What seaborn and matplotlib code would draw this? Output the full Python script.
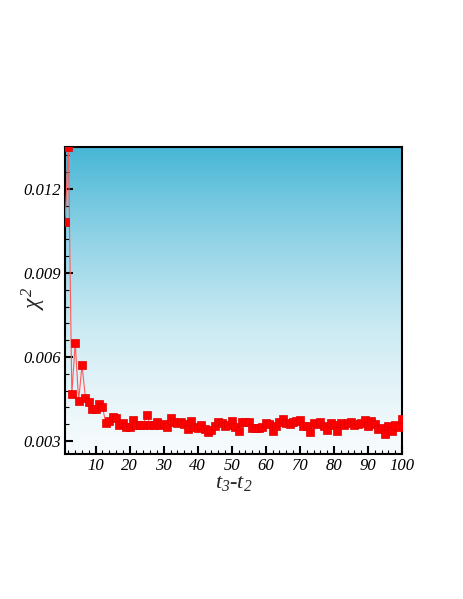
import numpy as np
import pandas as pd
import seaborn as sns
import matplotlib
matplotlib.use("Agg")
import matplotlib.pyplot as plt
from matplotlib.colors import LinearSegmentedColormap
from matplotlib.ticker import MultipleLocator, FormatStrFormatter

# chi^2 versus t3 - t2
steps = list(range(1, 101))
chi2 = [
    0.01082, 0.01350, 0.00468, 0.00651, 0.00444, 0.00571, 0.00454, 0.00438, 0.00414, 0.00414,
    0.00432, 0.00421, 0.00364, 0.00372, 0.00387, 0.00383, 0.00358, 0.00365, 0.00351, 0.00351,
    0.00374, 0.00358, 0.00356, 0.00358, 0.00394, 0.00358, 0.00358, 0.00369, 0.00356, 0.00362,
    0.00351, 0.00383, 0.00367, 0.00363, 0.00369, 0.00360, 0.00342, 0.00372, 0.00351, 0.00348,
    0.00357, 0.00343, 0.00331, 0.00339, 0.00355, 0.00369, 0.00365, 0.00355, 0.00357, 0.00371,
    0.00349, 0.00337, 0.00367, 0.00368, 0.00367, 0.00346, 0.00345, 0.00345, 0.00349, 0.00363,
    0.00361, 0.00337, 0.00354, 0.00367, 0.00379, 0.00363, 0.00360, 0.00367, 0.00371, 0.00375,
    0.00354, 0.00355, 0.00333, 0.00363, 0.00360, 0.00369, 0.00355, 0.00339, 0.00363, 0.00357,
    0.00335, 0.00365, 0.00357, 0.00365, 0.00367, 0.00357, 0.00360, 0.00363, 0.00377, 0.00354,
    0.00371, 0.00360, 0.00343, 0.00348, 0.00327, 0.00355, 0.00335, 0.00357, 0.00351, 0.00379,
]

df = pd.DataFrame({"step": steps, "chi2": chi2})

sns.set_theme(style="white")
plt.rcParams["font.family"] = ["Liberation Serif", "DejaVu Serif"]
plt.rcParams["font.style"] = "italic"
plt.rcParams["mathtext.fontset"] = "custom"
plt.rcParams["mathtext.it"] = "Liberation Serif:italic"
plt.rcParams["mathtext.rm"] = "Liberation Serif:italic"

fig = plt.figure(figsize=(4.63, 5.99), dpi=100)
ax = fig.add_axes([0.1404, 0.2421, 0.7279, 0.5125])

# white -> teal gradient background, darker towards the top
bg = LinearSegmentedColormap.from_list("bg", ["#f7fbfd", "#cdebf3", "#8fd2e6", "#48b7d6"])
grad = np.linspace(0, 1, 256).reshape(-1, 1) ** 1.2
ax.imshow(grad, cmap=bg, aspect="auto", origin="lower",
          extent=[0, 1, 0, 1], transform=ax.transAxes, zorder=0)

sns.lineplot(data=df, x="step", y="chi2", ax=ax, color="#ff5a5a", linewidth=0.8,
             marker="s", markersize=5.5, markerfacecolor="#ff0000",
             markeredgecolor="#e00000", markeredgewidth=0.5, zorder=3)

ax.set_xlim(1, 100)
ax.set_ylim(0.00254, 0.0135)

ax.xaxis.set_minor_locator(MultipleLocator(2))
ax.yaxis.set_major_locator(MultipleLocator(0.003))
ax.yaxis.set_minor_locator(MultipleLocator(0.0006))
ax.yaxis.set_major_formatter(FormatStrFormatter("%.3f"))
ax.set_xticks([10, 20, 30, 40, 50, 60, 70, 80, 90, 100])

ax.tick_params(which="both", direction="in", top=False, right=False,
               bottom=True, left=True, colors="black")
ax.tick_params(which="major", length=6, width=1.5, labelsize=12, pad=3)
ax.tick_params(which="minor", length=3, width=0.8)

for s in ax.spines.values():
    s.set_color("black")
    s.set_linewidth(1.5)

ax.set_xlabel(r"$t_3$-$t_2$", fontsize=16, labelpad=0)
ax.set_ylabel(r"$\chi^2$", fontsize=17, rotation=90)
ax.yaxis.set_label_coords(-0.05, 0.508)
ax.grid(False)

fig.savefig("out.png", dpi=100)
